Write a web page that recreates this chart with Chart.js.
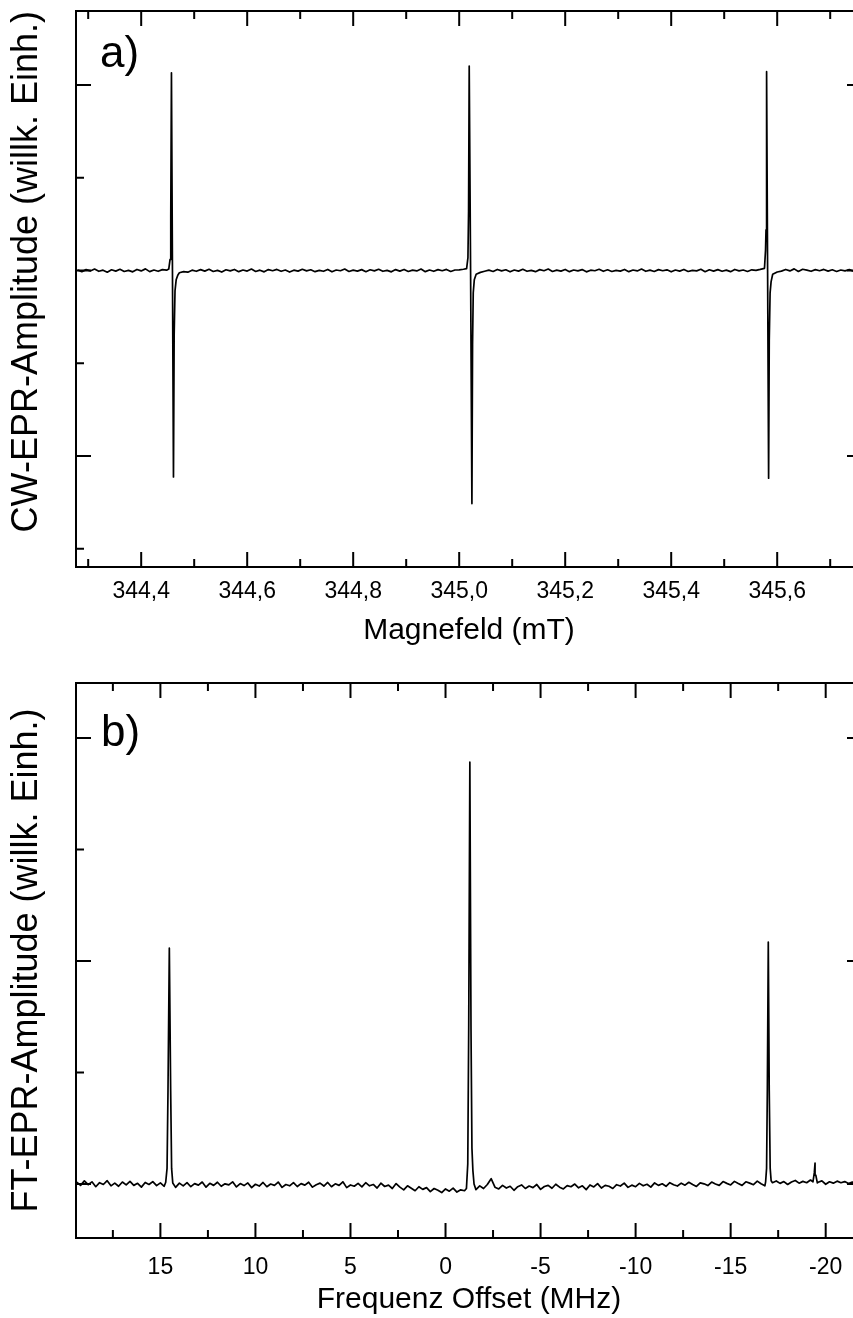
<!DOCTYPE html>
<html><head><meta charset="utf-8">
<script src="https://cdn.jsdelivr.net/npm/chart.js@4/dist/chart.umd.min.js"></script>
<style>
html,body{margin:0;padding:0;background:#fff;overflow:hidden;width:853px;height:1318px;position:relative;}
canvas{position:absolute;left:0;}
#ca{top:0;}
#cb{top:660px;}
</style></head><body>
<canvas id="ca" width="870" height="660"></canvas>
<canvas id="cb" width="870" height="658"></canvas>
<script>
// ---------- Panel a) CW-EPR (Magnetfeld in mT, amplitude in arbitrary milli-units) ----------
const cwBaseline = [
[344.280,3],[344.288,-6],[344.296,5],[344.304,-2],[344.312,8],[344.320,-4],[344.328,2],[344.336,-9],[344.344,4],[344.352,-3],
[344.360,7],[344.368,-5],[344.376,1],[344.384,-7],[344.392,6],[344.400,-2],[344.408,9],[344.416,-6],[344.424,3],[344.432,-4],
[344.440,5],[344.448,2],
[344.472,-12],[344.480,-6],[344.488,-9],[344.496,2],[344.504,-4],[344.512,5],[344.520,-3],[344.528,7],[344.536,-5],[344.544,1],
[344.552,-8],[344.560,4],[344.568,-2],[344.576,6],[344.584,-6],[344.592,3],[344.600,-3],[344.608,8],[344.616,-5],[344.624,2],
[344.632,-7],[344.640,5],[344.648,-1],[344.656,6],[344.664,-4],[344.672,3],[344.680,-8],[344.688,2],[344.696,-3],[344.704,7],
[344.712,-2],[344.720,4],[344.728,-6],[344.736,1],[344.744,-4],[344.752,6],[344.760,-7],[344.768,3],[344.776,-1],[344.784,8],
[344.792,-5],[344.800,2],[344.808,-3],[344.816,5],[344.824,-6],[344.832,4],[344.840,-2],[344.848,7],[344.856,-4],[344.864,1],
[344.872,-7],[344.880,5],[344.888,-3],[344.896,6],[344.904,-5],[344.912,2],[344.920,-2],[344.928,8],[344.936,-6],[344.944,3],
[344.952,-4],[344.960,5],[344.968,-1],[344.976,6],[344.984,-5],[344.992,3],[345.000,4],[345.008,7],
[345.040,-10],[345.048,-4],[345.056,2],[345.064,-5],[345.072,6],[345.080,-2],[345.088,4],[345.096,-7],[345.104,3],[345.112,-3],
[345.120,7],[345.128,-4],[345.136,1],[345.144,-6],[345.152,5],[345.160,-1],[345.168,8],[345.176,-5],[345.184,2],[345.192,-3],
[345.200,6],[345.208,-6],[345.216,3],[345.224,-2],[345.232,5],[345.240,-7],[345.248,2],[345.256,-1],[345.264,7],[345.272,-4],
[345.280,4],[345.288,-5],[345.296,1],[345.304,-3],[345.312,6],[345.320,-6],[345.328,3],[345.336,-2],[345.344,8],[345.352,-4],
[345.360,2],[345.368,-5],[345.376,5],[345.384,-1],[345.392,4],[345.400,-7],[345.408,3],[345.416,-3],[345.424,6],[345.432,-5],
[345.440,1],[345.448,-2],[345.456,7],[345.464,-6],[345.472,4],[345.480,-3],[345.488,5],[345.496,-4],[345.504,2],[345.512,-6],
[345.520,6],[345.528,-2],[345.536,3],[345.544,-5],[345.552,4],[345.560,1],[345.568,6],
[345.600,-8],[345.608,-3],[345.616,6],[345.624,-2],[345.632,9],[345.640,-5],[345.648,7],[345.656,2],[345.664,-4],[345.672,5],
[345.680,-1],[345.688,6],[345.696,-3],[345.704,4],[345.712,-5],[345.720,3],[345.728,-2],[345.736,5],[345.744,-4],[345.752,2],
[345.760,-1]
];
const cwPeak1 = [[344.4520,8],[344.4545,60],[344.4558,300],[344.4571,1066],[344.4590,0],[344.4609,-1113],[344.4622,-350],[344.4638,-110],[344.4660,-50],[344.4690,-25]];
const cwPeak2 = [[345.0140,10],[345.0165,70],[345.0177,320],[345.0189,1102],[345.0215,0],[345.0240,-1256],[345.0252,-400],[345.0265,-120],[345.0285,-50],[345.0320,-20]];
const cwPeak3 = [[345.5760,12],[345.5780,110],[345.5789,220],[345.5800,1072],[345.5819,0],[345.5838,-1119],[345.5850,-380],[345.5866,-120],[345.5885,-60],[345.5915,-20]];
const cwFieldTicks = [344.4, 344.6, 344.8, 345.0, 345.2, 345.4, 345.6];
const cwFieldMinor = [344.3, 344.5, 344.7, 344.9, 345.1, 345.3, 345.5, 345.7];
const cwAmpTicks = [-1000, 0, 1000];
const cwAmpMinor = [-1500, -500, 500];

// ---------- Panel b) FT-EPR (Frequenz Offset in MHz) ----------
const ftBaseline = [
[19.4,8],[19.2,-6],[19.0,14],[18.8,-3],[18.6,10],[18.4,-12],[18.2,6],[18.0,-2],[17.8,15],[17.6,-8],
[17.4,4],[17.2,-10],[17.0,9],[16.8,-4],[16.6,12],[16.4,-6],[16.2,3],[16.0,-14],[15.8,7],[15.6,-2],
[15.4,11],[15.2,-7],[15.0,5],[14.8,-10],
[14.2,-15],[14.0,4],[13.8,-8],[13.6,6],[13.4,-12],[13.2,2],[13.0,-5],[12.8,9],[12.6,-14],[12.4,3],
[12.2,-6],[12.0,8],[11.8,-10],[11.6,1],[11.4,-4],[11.2,10],[11.0,-13],[10.8,2],[10.6,-7],[10.4,5],
[10.2,-16],[10.0,-1],[9.8,-9],[9.6,7],[9.4,-12],[9.2,0],[9.0,-6],[8.8,9],[8.6,-15],[8.4,-2],
[8.2,-8],[8.0,6],[7.8,-11],[7.6,2],[7.4,-5],[7.2,8],[7.0,-14],[6.8,-3],[6.6,4],[6.4,-9],
[6.2,7],[6.0,-12],[5.8,1],[5.6,-6],[5.4,10],[5.2,-16],[5.0,-4],[4.8,-10],[4.6,3],[4.4,-13],
[4.2,6],[4.0,-8],[3.8,-2],[3.6,-18],[3.4,4],[3.2,-11],[3.0,-5],[2.8,-20],[2.6,2],[2.4,-14],
[2.2,-26],[2.0,-8],[1.8,-19],[1.6,-30],[1.4,-12],[1.2,-24],[1.0,-16],[0.8,-34],[0.6,-20],[0.4,-28],
[0.2,-38],[0.0,-22],[-0.2,-32],[-0.4,-18],[-0.6,-36],[-0.8,-26],[-1.0,-30],
[-1.6,-25],[-1.8,-8],[-2.0,-20],[-2.2,-2],[-2.4,24],[-2.6,-14],[-2.8,-22],[-3.0,-6],[-3.2,-18],[-3.4,-10],
[-3.6,-28],[-3.8,-12],[-4.0,-4],[-4.2,-20],[-4.4,-9],[-4.6,-16],[-4.8,-2],[-5.0,-24],[-5.2,-11],[-5.4,-6],
[-5.6,-19],[-5.8,-1],[-6.0,-14],[-6.2,-22],[-6.4,-7],[-6.6,-12],[-6.8,0],[-7.0,-17],[-7.2,-8],[-7.4,-25],
[-7.6,-4],[-7.8,-13],[-8.0,2],[-8.2,-18],[-8.4,-6],[-8.6,-10],[-8.8,-20],[-9.0,-3],[-9.2,-9],[-9.4,4],
[-9.6,-15],[-9.8,-5],[-10.0,-12],[-10.2,3],[-10.4,-8],[-10.6,-1],[-10.8,-14],[-11.0,5],[-11.2,-6],[-11.4,1],
[-11.6,-10],[-11.8,6],[-12.0,-3],[-12.2,-9],[-12.4,4],[-12.6,-5],[-12.8,8],[-13.0,-2],[-13.2,-11],[-13.4,5],
[-13.6,1],[-13.8,-7],[-14.0,9],[-14.2,0],[-14.4,-6],[-14.6,11],[-14.8,3],[-15.0,-4],[-15.2,12],[-15.4,2],
[-15.6,-6],[-15.8,10],[-16.0,4],[-16.2,-3],[-16.4,13],[-16.6,1],[-16.8,-8],
[-17.2,6],[-17.4,14],[-17.6,3],[-17.8,11],[-18.0,-2],[-18.2,9],[-18.4,16],[-18.6,4],[-18.8,12],[-19.0,6],[-19.2,18],
[-19.6,8],[-19.8,14],[-20.0,-1],[-20.2,10],[-20.4,4],[-20.6,13],[-20.8,6],[-21.0,11],[-21.2,2],[-21.4,9],
[-21.6,5],[-21.8,12]
];
const ftPeak1 = [[14.72,8],[14.65,70],[14.60,420],[14.53,1058],[14.46,420],[14.41,70],[14.35,5]];
const ftPeak2 = [[-1.10,-20],[-1.17,90],[-1.22,700],[-1.28,1892],[-1.34,700],[-1.39,160],[-1.44,60],[-1.50,0]];
const ftPeak3 = [[-16.84,10],[-16.89,70],[-16.93,420],[-16.98,1085],[-17.03,420],[-17.08,70],[-17.13,15]];
const ftPeak4 = [[-19.33,10],[-19.40,50],[-19.44,94],[-19.48,40],[-19.56,5]];
const ftFreqTicks = [15, 10, 5, 0, -5, -10, -15, -20];
const ftFreqMinor = [17.5, 12.5, 7.5, 2.5, -2.5, -7.5, -12.5, -17.5];
const ftAmpTicks = [0, 1000, 2000];
const ftAmpMinor = [500, 1500];

// ---------- drawing ----------
Chart.defaults.font.family = "'Liberation Sans', Arial, sans-serif";
Chart.defaults.color = '#000';
Chart.defaults.animation = false;

function toPoints(...parts) {
  const all = [].concat(...parts).map(p => ({x: p[0], y: p[1]}));
  all.sort((a, b) => a.x - b.x);
  return all;
}

const framePlugin = {
  id: 'frame',
  afterDraw(chart, args, o) {
    const {ctx, chartArea: a, scales: {x, y}} = chart;
    ctx.save();
    ctx.strokeStyle = '#000';
    ctx.lineWidth = 2;
    ctx.lineCap = 'butt';
    ctx.beginPath();
    ctx.moveTo(a.left, a.top - 1); ctx.lineTo(a.left, a.bottom + 1);
    ctx.moveTo(a.left - 1, a.bottom); ctx.lineTo(a.right + 1, a.bottom);
    ctx.moveTo(a.left - 1, a.top); ctx.lineTo(a.right + 1, a.top);
    ctx.moveTo(a.right, a.top - 1); ctx.lineTo(a.right, a.bottom + 1);
    const tick = (vals, len) => {
      vals.forEach(v => {
        const px = x.getPixelForValue(v);
        ctx.moveTo(px, a.bottom); ctx.lineTo(px, a.bottom - len);
        ctx.moveTo(px, a.top); ctx.lineTo(px, a.top + len);
      });
    };
    const ytick = (vals, len) => {
      vals.forEach(v => {
        const py = y.getPixelForValue(v);
        ctx.moveTo(a.left, py); ctx.lineTo(a.left + len, py);
        ctx.moveTo(a.right, py); ctx.lineTo(a.right - len, py);
      });
    };
    tick(o.xMajor, 15); tick(o.xMinor, 8);
    ytick(o.yMajor, 15); ytick(o.yMinor, 8);
    ctx.stroke();
    ctx.fillStyle = '#000';
    ctx.font = "44px 'Liberation Sans', Arial, sans-serif";
    ctx.textBaseline = 'alphabetic';
    ctx.textAlign = 'left';
    ctx.fillText(o.label, o.labelX, o.labelY);
    ctx.restore();
  }
};

function makePanel(id, cfg) {
  const canvas = document.getElementById(id);
  return new Chart(canvas, {
    type: 'line',
    data: { datasets: [{ data: cfg.points, borderColor: '#000', borderWidth: 1.7, pointRadius: 0,
      tension: 0, borderJoinStyle: 'round', fill: false }] },
    options: {
      responsive: false,
      animation: false,
      events: [],
      layout: { padding: { left: 0, top: cfg.top, right: 8, bottom: 0 } },
      plugins: { legend: { display: false }, tooltip: { enabled: false },
        frame: { xMajor: cfg.xMajor, xMinor: cfg.xMinor, yMajor: cfg.yMajor, yMinor: cfg.yMinor,
          label: cfg.label, labelX: cfg.labelX, labelY: cfg.labelY } },
      scales: {
        x: {
          type: 'linear', min: cfg.xMin, max: cfg.xMax, reverse: cfg.reverse,
          grid: { display: false, drawTicks: false }, border: { display: false },
          afterBuildTicks: s => { s.ticks = cfg.xMajor.map(v => ({ value: v })); },
          afterFit: s => { s.height = cfg.xHeight; },
          ticks: { autoSkip: false, maxRotation: 0, padding: cfg.tickPad, font: { size: 23 }, color: '#000',
            callback: cfg.fmt },
          title: { display: true, text: cfg.xTitle, font: { size: 30 }, color: '#000',
            padding: { top: 0, bottom: cfg.titlePad } }
        },
        y: {
          type: 'linear', min: cfg.yMin, max: cfg.yMax,
          grid: { display: false, drawTicks: false }, border: { display: false },
          ticks: { display: false },
          afterFit: s => { s.width = 76; },
          title: { display: true, text: cfg.yTitle, align: cfg.yTitleAlign, font: { size: 36 }, color: '#000',
            padding: { top: 5, bottom: 0 } }
        }
      }
    },
    plugins: [framePlugin]
  });
}

makePanel('ca', {
  points: toPoints(cwBaseline, cwPeak1, cwPeak2, cwPeak3),
  top: 11, xHeight: 93, tickPad: 11, titlePad: 11,
  xMin: 344.277, xMax: 345.760, reverse: false,
  yMin: -1598, yMax: 1399,
  xMajor: cwFieldTicks, xMinor: cwFieldMinor, yMajor: cwAmpTicks, yMinor: cwAmpMinor,
  fmt: v => Number(v).toFixed(1).replace('.', ','),
  xTitle: 'Magnefeld (mT)', yTitle: 'CW-EPR-Amplitude (willk. Einh.)', yTitleAlign: 'end',
  label: 'a)', labelX: 100, labelY: 67
});

makePanel('cb', {
  points: toPoints(ftBaseline, ftPeak1, ftPeak2, ftPeak3, ftPeak4),
  top: 23, xHeight: 80, tickPad: 16, titlePad: 0,
  xMin: -21.91, xMax: 19.44, reverse: true,
  yMin: -242, yMax: 2247,
  xMajor: ftFreqTicks, xMinor: ftFreqMinor, yMajor: ftAmpTicks, yMinor: ftAmpMinor,
  fmt: v => String(Math.round(v)),
  xTitle: 'Frequenz Offset (MHz)', yTitle: 'FT-EPR-Amplitude (willk. Einh.)', yTitleAlign: 'center',
  label: 'b)', labelX: 101, labelY: 746 - 660
});
</script>
</body></html>
